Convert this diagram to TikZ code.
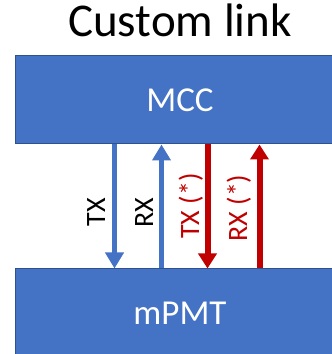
\documentclass[tikz,border=0pt]{standalone}
\usepackage{fontspec}
\setmainfont{Carlito}
\usetikzlibrary{positioning,arrows.meta}
\definecolor{boxblue}{HTML}{4472C4}
\definecolor{boxedge}{HTML}{2F528F}
\definecolor{linkred}{HTML}{C00000}
\tikzstyle{block}=[draw=boxedge, line width=1pt, fill=boxblue, text=white, font=\fontsize{35}{42}\selectfont, minimum width=330pt, minimum height=88pt, inner sep=0pt]
\tikzstyle{bluearrow}=[draw=boxblue, line width=4.5pt, -{Triangle[width=18pt,length=16pt]}]
\tikzstyle{redarrow}=[draw=linkred, line width=6pt, -{Triangle[width=18pt,length=15pt]}]
\tikzstyle{lbl}=[rotate=90, anchor=base, inner sep=0pt, font=\fontsize{28}{34}\selectfont]

\begin{document}
\begin{tikzpicture}[x=1pt,y=1pt]
\clip (0,0) rectangle (332,354);

\node (mcc) [block] at (180,254) {MCC};
\node (title) [above=18pt of mcc, inner sep=0pt, font=\fontsize{47}{56}\selectfont] {Custom link};
\node (mpmt) [block, below=124pt of mcc] {mPMT};

\draw [bluearrow] ([xshift=100pt]mcc.south west) -- ([xshift=100pt]mpmt.north west);
\draw [bluearrow] ([xshift=147pt]mpmt.north west) -- ([xshift=147pt]mcc.south west);
\draw [redarrow] ([xshift=193pt]mcc.south west) -- ([xshift=193pt]mpmt.north west);
\draw [redarrow] ([xshift=245pt]mpmt.north west) -- ([xshift=245pt]mcc.south west);

\node (tx) [lbl] at (105,142) {TX};
\node (rx) [lbl] at (153,141) {RX};
\node (txs) [lbl, text=linkred] at (199,148) {TX (*)};
\node (rxs) [lbl, text=linkred] at (247,146) {RX (*)};

\end{tikzpicture}
\end{document}
